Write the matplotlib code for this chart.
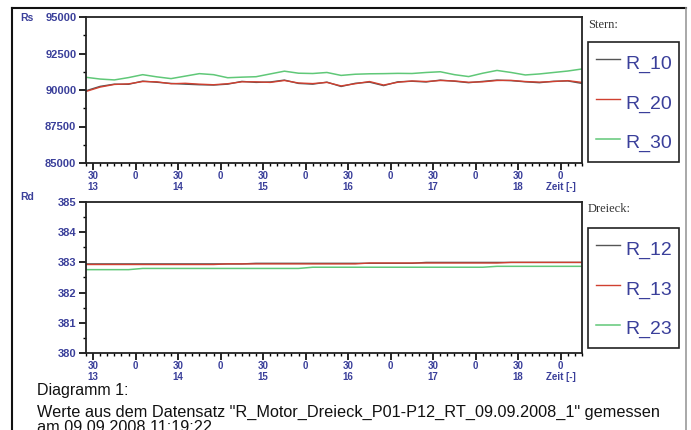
import matplotlib.pyplot as plt
import numpy as np
from matplotlib.lines import Line2D

plt.rcParams['font.family'] = 'Liberation Sans'

# time in minutes after 13:00, one sample every 10 min
t = np.arange(25, 376, 10)

r10 = [89950, 90250, 90400, 90390, 90610, 90530, 90450, 90400, 90360, 90340,
       90400, 90590, 90520, 90550, 90680, 90450, 90400, 90540, 90240, 90460,
       90540, 90300, 90560, 90600, 90550, 90680, 90600, 90500, 90590, 90680,
       90640, 90560, 90500, 90600, 90620, 90450]
r20 = [89900, 90200, 90380, 90420, 90580, 90560, 90430, 90460, 90400, 90360,
       90430, 90560, 90560, 90520, 90650, 90480, 90440, 90520, 90280, 90430,
       90580, 90340, 90530, 90620, 90580, 90650, 90620, 90530, 90560, 90650,
       90660, 90580, 90540, 90580, 90640, 90520]
r30 = [90870, 90750, 90690, 90850, 91050, 90900, 90780, 90950, 91120, 91050,
       90840, 90880, 90910, 91100, 91290, 91150, 91130, 91200, 91000, 91080,
       91110, 91120, 91140, 91130, 91200, 91250, 91050, 90920, 91150, 91340,
       91200, 91030, 91100, 91200, 91300, 91440]

r12 = [382.95]*12 + [382.97]*12 + [383.0]*12
r13 = [382.93]*10 + [382.95]*10 + [382.98]*10 + [383.0]*6
r23 = [382.76]*4 + [382.8]*12 + [382.84]*13 + [382.87]*7

blue = '#3a3f9a'
c_gray = '#555555'
c_red = '#d04030'
c_green = '#60c878'

ticks = np.arange(30, 361, 30)
tick_labels = []
for m in ticks:
    if m % 60 == 30:
        tick_labels.append("30\n%d" % (13 + m // 60))
    elif m == 360:
        tick_labels.append("0\nZeit [-]")
    else:
        tick_labels.append("0")

fig = plt.figure(figsize=(6.91, 4.30), dpi=100)
ax1 = fig.add_axes([86/691, 1-163/430, 496/691, 146/430])
ax2 = fig.add_axes([86/691, 1-353/430, 496/691, 151/430])

ax1.plot(t, r10, color=c_gray, lw=1.0, label='R_10')
ax1.plot(t, r20, color=c_red, lw=1.0, label='R_20')
ax1.plot(t, r30, color=c_green, lw=1.1, label='R_30')
ax1.set_ylim(85000, 95000)
ax1.set_yticks(np.arange(85000, 95001, 2500))
ax1.set_yticks(np.arange(85000, 95001, 1250), minor=True)

ax2.plot(t, r12, color=c_gray, lw=1.0, label='R_12')
ax2.plot(t, r13, color=c_red, lw=1.0, label='R_13')
ax2.plot(t, r23, color=c_green, lw=1.1, label='R_23')
ax2.set_ylim(380, 385)
ax2.set_yticks(np.arange(380, 385.1, 1))
ax2.set_yticks(np.arange(380, 385.1, 0.5), minor=True)

for ax in (ax1, ax2):
    ax.set_xlim(25, 375)
    ax.set_xticks(ticks)
    ax.set_xticks(np.arange(25, 376, 5), minor=True)
    ax.set_xticklabels(tick_labels, fontsize=7, fontweight='bold', color=blue,
                       linespacing=1.1)
    for lab in ax.get_yticklabels():
        lab.set_fontsize(8)
        lab.set_fontweight('bold')
        lab.set_color(blue)
    ax.tick_params(which='major', length=5, width=1.2, pad=2)
    ax.tick_params(axis='x', which='major', pad=1)
    ax.tick_params(which='minor', length=2.5, width=1.0)
    for s in ax.spines.values():
        s.set_linewidth(1.3)
        s.set_color('#222222')

leg_kw = dict(loc='upper left', fontsize=14, frameon=True, fancybox=False,
              edgecolor='#222222', framealpha=1, handlelength=1.25,
              handleheight=1.6, handletextpad=0.25, labelspacing=0.76,
              borderpad=0.4, borderaxespad=0)
leg1 = ax1.legend(bbox_to_anchor=(588/691, 1-42/430), bbox_transform=fig.transFigure, **leg_kw)
leg2 = ax2.legend(bbox_to_anchor=(588/691, 1-228/430), bbox_transform=fig.transFigure, **leg_kw)
for leg in (leg1, leg2):
    leg.get_frame().set_linewidth(1.2)
    for txt in leg.get_texts():
        txt.set_color(blue)

fig.text(588/691, 1-25/430, "Stern:", family='Liberation Serif', fontsize=9,
         color='#333333', va='center')
fig.text(588/691, 1-209/430, "Dreieck:", family='Liberation Serif', fontsize=9,
         color='#333333', va='center')
fig.text(20/691, 1-18/430, "Rs", fontsize=7.5, fontweight='bold', color=blue, va='center')
fig.text(20/691, 1-197/430, "Rd", fontsize=7.5, fontweight='bold', color=blue, va='center')

fig.text(37/691, 1-391/430, "Diagramm 1:", fontsize=11.5, color='#111111', va='center')
fig.text(37/691, 1-405/430,
         'Werte aus dem Datensatz "R_Motor_Dreieck_P01-P12_RT_09.09.2008_1" gemessen\n'
         'am 09.09.2008 11:19:22',
         fontsize=11.7, color='#111111', va='top', linespacing=1.0)

# outer frame
fig.add_artist(Line2D([12/691, 686/691], [1-8/430, 1-8/430], color='#111111', lw=1.5))
fig.add_artist(Line2D([12/691, 12/691], [0, 1-8/430], color='#111111', lw=1.5))
fig.add_artist(Line2D([686/691, 686/691], [0, 1-8/430], color='#999999', lw=1.2))

fig.savefig('out.png', dpi=100)
